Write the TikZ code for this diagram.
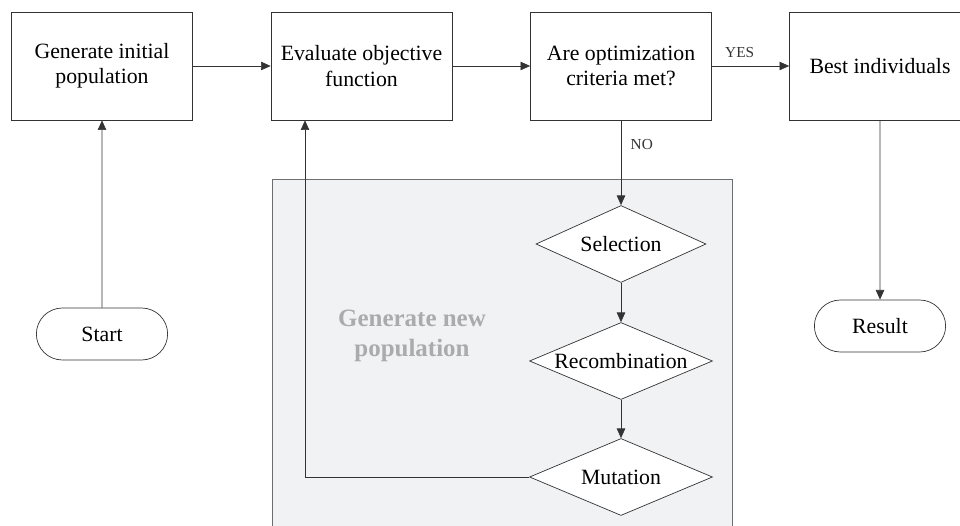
\documentclass[tikz,border=0pt]{standalone}
\usepackage{fontspec}
\setmainfont{Liberation Serif}
\newfontfamily\diagfont{Liberation Serif}
\usepackage{xcolor}
\usetikzlibrary{shapes.geometric,shapes.misc,arrows.meta}

\definecolor{linegray}{HTML}{333333}
\definecolor{panelfill}{HTML}{F1F2F4}
\definecolor{panelline}{HTML}{6E6E6E}
\definecolor{paneltext}{HTML}{ABABAB}

\tikzset{
  procbox/.style={draw=linegray, thin, rectangle, minimum width=3.62cm, minimum height=2.16cm,
    align=center, inner sep=2pt, font=\diagfont\fontsize{12.4}{14.5}\selectfont},
  decision/.style={draw=linegray, thin, diamond, fill=white, aspect=2.4, inner sep=0pt,
    minimum width=3.66cm, minimum height=1.54cm, font=\diagfont\fontsize{12.4}{14.5}\selectfont},
  terminal/.style={draw=linegray, thin, rounded rectangle, minimum width=2.86cm, minimum height=1.04cm,
    font=\diagfont\fontsize{12.4}{14.5}\selectfont},
  arr/.style={draw=linegray, thin, -{Triangle[length=5.5pt,width=4.8pt]}},
  small/.style={font=\diagfont\fontsize{8.7}{10}\selectfont, text=linegray}
}

\begin{document}
\begin{tikzpicture}[x=0.02cm, y=-0.02cm]
        \useasboundingbox (0,0) rectangle (960,526);
        \clip (0,0) rectangle (960,526);

        % Grey panel behind the loop
        \draw[draw=panelline, fill=panelfill, thin] (272,179) rectangle (732,540);
        \node[text=paneltext, align=center, font=\diagfont\fontsize{14.2}{17}\selectfont\bfseries] (newpop) at (412,336) {Generate new\\population};

        % Main row
        \node[procbox] (init) at (102,66) {Generate initial\\population};
        \node[procbox] (eval) at (361.5,66) {Evaluate objective\\function};
        \node[procbox] (crit) at (621,66) {Are optimization\\criteria met?};
        \node[procbox] (best) at (880,66) {Best individuals};

        % Start and end
        \node[terminal] (start) at (102,334) {Start};
        \node[terminal] (result) at (880,326) {Result};

        % Operators
        \node[decision, minimum width=3.4cm] (sel) at (621,244) {Selection};
        \node[decision] (rec) at (621,361) {Recombination};
        \node[decision] (mut) at (621,477) {Mutation};

        % Connectors
        \draw[arr] (start) -- (init);
        \draw[arr] (init) -- (eval);
        \draw[arr] (eval) -- (crit);
        \draw[arr] (crit) -- node[small, pos=0.36, above=1.5pt] (yes) {YES} (best);
        \draw[arr] (best) -- (result);
        \draw[arr] (crit) -- node[small, pos=0.28, right=2pt] (no) {NO} (sel);
        \draw[arr] (sel) -- (rec);
        \draw[arr] (rec) -- (mut);
        \coordinate (loop) at (305,477);
        \draw[arr] (mut.west) -- (loop) -- (loop |- eval.south);
    \end{tikzpicture}
\end{document}
